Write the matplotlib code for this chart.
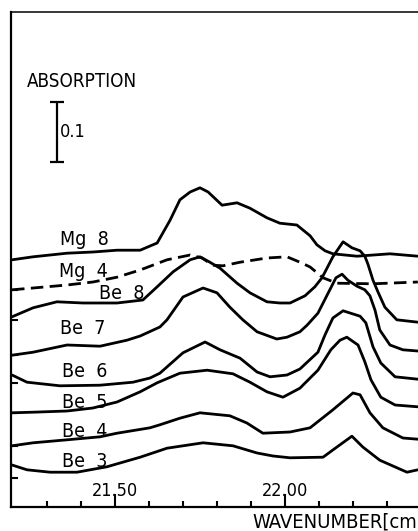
import numpy as np
import matplotlib
matplotlib.use('Agg')
import matplotlib.pyplot as plt

# spectra, absorption with vertical offsets; wavenumber in 10^3 cm^-1
mg8_x = [21.197, 21.259, 21.359, 21.435, 21.506, 21.574, 21.624, 21.662, 21.691, 21.721, 21.750,
         21.774, 21.815, 21.859, 21.897, 21.947, 21.985, 22.035, 22.074, 22.094, 22.118, 22.141,
         22.212, 22.309, 22.391]
mg8_y = [0.412, 0.417, 0.423, 0.425, 0.428, 0.428, 0.440, 0.478, 0.512, 0.525, 0.532,
         0.525, 0.503, 0.507, 0.498, 0.482, 0.473, 0.470, 0.452, 0.437, 0.427, 0.422,
         0.418, 0.422, 0.418]

mg4_x = [21.197, 21.259, 21.359, 21.435, 21.506, 21.574, 21.653, 21.721, 21.756, 21.788, 21.818,
         21.868, 21.947, 22.006, 22.044, 22.074, 22.112, 22.153, 22.259, 22.391]
mg4_y = [0.362, 0.365, 0.370, 0.375, 0.383, 0.395, 0.412, 0.420, 0.415, 0.403, 0.402,
         0.408, 0.415, 0.417, 0.408, 0.400, 0.382, 0.373, 0.372, 0.375]

be8_x = [21.197, 21.259, 21.329, 21.406, 21.506, 21.582, 21.624, 21.671, 21.721, 21.750, 21.779,
         21.809, 21.859, 21.897, 21.947, 21.985, 22.015, 22.059, 22.088, 22.109, 22.141, 22.171,
         22.197, 22.221, 22.235, 22.244, 22.259, 22.274, 22.294, 22.329, 22.391]
be8_y = [0.317, 0.332, 0.342, 0.340, 0.340, 0.345, 0.367, 0.392, 0.412, 0.417, 0.408,
         0.398, 0.373, 0.357, 0.342, 0.340, 0.340, 0.352, 0.367, 0.382, 0.417, 0.442,
         0.432, 0.427, 0.418, 0.405, 0.378, 0.358, 0.333, 0.312, 0.308]

be7_x = [21.197, 21.259, 21.359, 21.456, 21.535, 21.574, 21.632, 21.653, 21.700, 21.759, 21.800,
         21.838, 21.876, 21.918, 21.976, 22.006, 22.044, 22.065, 22.097, 22.132, 22.150, 22.168,
         22.185, 22.212, 22.235, 22.250, 22.265, 22.279, 22.309, 22.347, 22.391]
be7_y = [0.253, 0.258, 0.270, 0.268, 0.278, 0.285, 0.300, 0.312, 0.350, 0.365, 0.357,
         0.333, 0.312, 0.292, 0.280, 0.283, 0.292, 0.303, 0.323, 0.362, 0.382, 0.388,
         0.378, 0.368, 0.362, 0.352, 0.328, 0.295, 0.270, 0.262, 0.260]

be6_x = [21.197, 21.241, 21.338, 21.456, 21.553, 21.603, 21.632, 21.700, 21.765, 21.809, 21.868,
         21.918, 21.956, 22.006, 22.044, 22.097, 22.118, 22.141, 22.171, 22.221, 22.238, 22.259,
         22.282, 22.324, 22.391]
be6_y = [0.220, 0.208, 0.202, 0.203, 0.208, 0.215, 0.223, 0.257, 0.275, 0.262, 0.248,
         0.225, 0.217, 0.220, 0.230, 0.258, 0.287, 0.315, 0.327, 0.318, 0.307, 0.267,
         0.240, 0.217, 0.213]

be5_x = [21.197, 21.259, 21.359, 21.435, 21.506, 21.574, 21.624, 21.691, 21.771, 21.847, 21.897,
         21.947, 21.994, 22.044, 22.097, 22.135, 22.162, 22.182, 22.215, 22.235, 22.253, 22.282,
         22.324, 22.391]
be5_y = [0.157, 0.158, 0.160, 0.165, 0.175, 0.192, 0.207, 0.223, 0.228, 0.222, 0.208,
         0.192, 0.183, 0.198, 0.228, 0.262, 0.278, 0.283, 0.270, 0.242, 0.212, 0.183,
         0.170, 0.167]

be4_x = [21.197, 21.259, 21.359, 21.456, 21.506, 21.603, 21.632, 21.691, 21.750, 21.838, 21.888,
         21.935, 22.015, 22.074, 22.141, 22.200, 22.221, 22.250, 22.288, 22.347, 22.391]
be4_y = [0.102, 0.107, 0.112, 0.117, 0.123, 0.132, 0.137, 0.148, 0.157, 0.152, 0.140,
         0.123, 0.125, 0.132, 0.162, 0.190, 0.187, 0.157, 0.132, 0.115, 0.113]

be3_x = [21.197, 21.241, 21.309, 21.388, 21.476, 21.574, 21.653, 21.759, 21.847, 21.918, 21.965,
         22.015, 22.112, 22.153, 22.197, 22.229, 22.279, 22.359, 22.391]
be3_y = [0.070, 0.062, 0.058, 0.058, 0.067, 0.083, 0.098, 0.107, 0.102, 0.090, 0.085,
         0.082, 0.083, 0.100, 0.118, 0.100, 0.078, 0.058, 0.062]

labels = ['Mg  8', 'Mg  4', 'Be  8', 'Be  7', 'Be  6', 'Be  5', 'Be  4', 'Be  3']
label_x = [21.338, 21.335, 21.453, 21.338, 21.344, 21.344, 21.344, 21.344]
label_y = [0.437, 0.383, 0.347, 0.288, 0.217, 0.165, 0.117, 0.067]

ytick_pos = [0.362, 0.312, 0.253, 0.207, 0.157, 0.102, 0.048]
xmajor = [21.50, 22.00]
xmajor_labels = ['21.50', '22.00']
xminor = [21.3, 21.4, 21.6, 21.7, 21.8, 21.9, 22.1, 22.2, 22.3, 22.4]

scale_x = 21.329
scale_y0 = 0.575
scale_len = 0.1

plt.rcParams['font.family'] = ['DejaVu Sans']
plt.rcParams['font.stretch'] = 'condensed'

fig = plt.figure(figsize=(4.18, 5.31), dpi=100)
ax = fig.add_axes([11/418, 24/531, 449/418, 495/531])
ax.set_xlim(21.194, 22.515)
ax.set_ylim(0, 0.825)

lw = 2.0
solid = [(mg8_x, mg8_y), (be8_x, be8_y), (be7_x, be7_y), (be6_x, be6_y),
         (be5_x, be5_y), (be4_x, be4_y), (be3_x, be3_y)]
for xs, ys in solid:
    ax.plot(xs, ys, color='black', lw=lw, solid_joinstyle='round', solid_capstyle='round')
ax.plot(mg4_x, mg4_y, color='black', lw=lw, dashes=(4.5, 2.3))

for t, x, y in zip(labels, label_x, label_y):
    ax.text(x, y, t, fontsize=14, va='baseline', ha='left', fontstretch='condensed')

# 0.1 absorption scale bar
ax.errorbar([scale_x], [scale_y0 + scale_len / 2], yerr=scale_len / 2, color='black',
            lw=1.6, capsize=4.7, capthick=1.6)
ax.text(scale_x + 0.009, 0.617, '0.1', fontsize=13, va='baseline', ha='left',
        fontstretch='condensed')
ax.text(21.241, 0.700, 'ABSORPTION', fontsize=13.5, va='baseline', ha='left',
        fontstretch='condensed')

ax.spines['right'].set_visible(False)
for s in ['left', 'bottom']:
    ax.spines[s].set_linewidth(1.6)
ax.spines['top'].set_linewidth(1.1)

ax.set_xticks(xmajor)
ax.set_xticklabels(xmajor_labels, fontstretch='condensed')
ax.set_xticks(xminor, minor=True)
ax.tick_params(axis='x', which='major', direction='in', length=9.5, width=1.5,
               pad=-18, labelsize=13)
ax.tick_params(axis='x', which='minor', direction='in', length=4, width=1.5)
ax.set_yticks(ytick_pos)
ax.set_yticklabels([])
ax.tick_params(axis='y', which='major', direction='in', length=5, width=1.5)

fig.text(252/418, 3/531, 'WAVENUMBER[cm⁻¹]', fontsize=14.5, va='baseline', ha='left',
         fontstretch='condensed')

plt.savefig('out.png', dpi=100)
